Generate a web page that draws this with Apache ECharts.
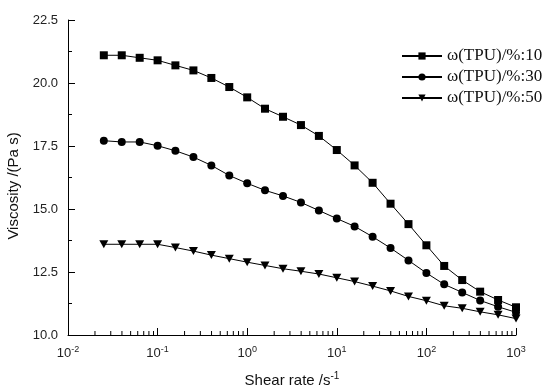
<!DOCTYPE html>
<html><head><meta charset="utf-8">
<script src="https://cdn.jsdelivr.net/npm/echarts@6/dist/echarts.min.js"></script>
<style>html,body{margin:0;padding:0;background:#fff}#c{width:554px;height:389px}</style>
</head><body><div id="c"></div>
<script>
const shearRate = [0.0251, 0.0398, 0.0631, 0.1, 0.158, 0.251, 0.398, 0.631, 1, 1.58, 2.51, 3.98, 6.31, 10, 15.8, 25.1, 39.8, 63.1, 100, 158, 251, 398, 631, 1000];
const tpu10 = [21.1, 21.1, 21.0, 20.9, 20.7, 20.5, 20.2, 19.84, 19.43, 18.98, 18.66, 18.33, 17.9, 17.34, 16.73, 16.04, 15.21, 14.4, 13.56, 12.74, 12.18, 11.72, 11.39, 11.1];
const tpu30 = [17.71, 17.66, 17.66, 17.51, 17.31, 17.06, 16.73, 16.33, 16.02, 15.74, 15.52, 15.26, 14.94, 14.62, 14.31, 13.9, 13.45, 12.96, 12.46, 12.01, 11.69, 11.37, 11.12, 10.9];
const tpu50 = [13.6, 13.6, 13.6, 13.6, 13.47, 13.33, 13.17, 13.03, 12.89, 12.76, 12.63, 12.53, 12.42, 12.27, 12.12, 11.94, 11.75, 11.53, 11.36, 11.16, 11.06, 10.92, 10.8, 10.65];
const seriesNames = ['ω(TPU)/%:10', 'ω(TPU)/%:30', 'ω(TPU)/%:50'];
const yTicks = [10, 12.5, 15, 17.5, 20, 22.5];
const minorX = [];
[0.01, 0.1, 1, 10, 100].forEach(d => { for (let m = 2; m <= 9; m++) minorX.push(+(m * d).toPrecision(3)); });

const pair = arr => shearRate.map((x, i) => [x, arr[i]]);
const chart = echarts.init(document.getElementById('c'), null, {renderer: 'canvas'});
const lineBase = {type: 'line', lineStyle: {color: '#000', width: 1}, itemStyle: {color: '#000'}, z: 3};
chart.setOption({
  animation: false,
  backgroundColor: '#fff',
  grid: {left: 68, top: 20, right: 38, bottom: 54},
  legend: {
    orient: 'vertical', left: 401, top: 47, itemWidth: 40, itemHeight: 9, itemGap: 3, padding: 0,
    data: seriesNames,
    textStyle: {fontFamily: 'Liberation Serif', fontSize: 17, color: '#111', lineHeight: 18}
  },
  xAxis: {
    type: 'log', logBase: 10, min: 0.01, max: 1000,
    axisLine: {show: true, lineStyle: {color: '#000', width: 1}},
    axisTick: {show: true, inside: true, length: 7, lineStyle: {color: '#000'}},
    splitLine: {show: false},
    axisLabel: {
      margin: 10, color: '#222', fontFamily: 'Liberation Sans', fontSize: 13,
      formatter: v => '10{s|' + Math.round(Math.log10(v)) + '}',
      rich: {s: {fontSize: 9, fontFamily: 'Liberation Sans', color: '#222', padding: [0, 0, 8, 0]}}
    }
  },
  yAxis: {
    type: 'value', min: 10, max: 22.5, interval: 2.5,
    axisLine: {show: true, lineStyle: {color: '#000', width: 1}},
    axisTick: {show: true, inside: true, length: 7, lineStyle: {color: '#000'}},
    minorTick: {show: true, splitNumber: 2, length: 4, lineStyle: {color: '#000'}},
    splitLine: {show: false},
    axisLabel: {margin: 10, color: '#222', fontFamily: 'Liberation Sans', fontSize: 13, formatter: v => v.toFixed(1)}
  },
  graphic: [
    {type: 'text', x: 14, y: 186, rotation: Math.PI / 2, style: {text: 'Viscosity /(Pa s)', fontFamily: 'Liberation Sans', fontSize: 15, fill: '#111', align: 'center', verticalAlign: 'middle'}},
    {type: 'text', x: 292, y: 381, style: {text: 'Shear rate /s{s|-1}', fontFamily: 'Liberation Sans', fontSize: 15, fill: '#111', align: 'center', verticalAlign: 'middle', rich: {s: {fontSize: 10, fontFamily: 'Liberation Sans', fill: '#111', padding: [0, 0, 9, 0]}}}}
  ],
  series: [
    Object.assign({}, lineBase, {name: seriesNames[0], data: pair(tpu10), symbol: 'rect', symbolSize: 8}),
    Object.assign({}, lineBase, {name: seriesNames[1], data: pair(tpu30), symbol: 'circle', symbolSize: 8}),
    Object.assign({}, lineBase, {name: seriesNames[2], data: pair(tpu50), symbol: 'path://M0,0 L10,0 L5,9 Z', symbolSize: [9, 8]}),
    {
      type: 'custom', silent: true, clip: false, z: 2,
      data: minorX.map(x => [x, 10]),
      renderItem: (params, api) => {
        const p = api.coord([api.value(0), api.value(1)]);
        return {type: 'line', shape: {x1: p[0], y1: p[1], x2: p[0], y2: p[1] - 4}, style: {stroke: '#000', lineWidth: 1}};
      }
    }
  ]
});
</script></body></html>
